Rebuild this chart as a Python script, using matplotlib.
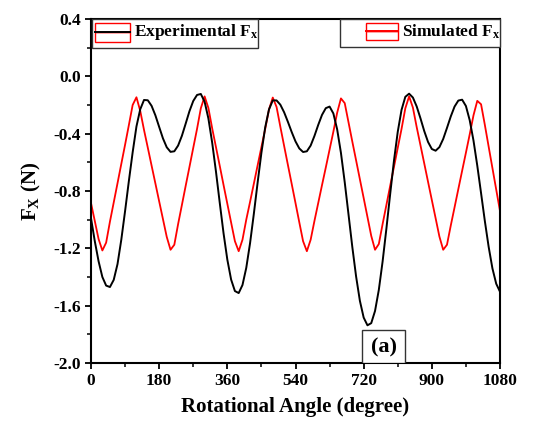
import matplotlib
matplotlib.use("Agg")
import matplotlib.pyplot as plt
from matplotlib.patches import Rectangle
from matplotlib.lines import Line2D
from matplotlib.ticker import MultipleLocator, FixedLocator, FuncFormatter

plt.rcParams['font.family'] = ['Liberation Serif', 'DejaVu Serif']
plt.rcParams['font.weight'] = 'bold'
plt.rcParams['axes.unicode_minus'] = False
plt.rcParams['mathtext.fontset'] = 'custom'
plt.rcParams['mathtext.rm'] = 'Liberation Serif:bold'
plt.rcParams['mathtext.bf'] = 'Liberation Serif:bold'
plt.rcParams['mathtext.it'] = 'Liberation Serif:bold'

# Rotational angle (degree), every 10 degrees from 0 to 1080
angle = list(range(0, 1081, 10))

experimental_fx = [
    -0.99, -1.15, -1.29, -1.40, -1.46, -1.47, -1.42, -1.31, -1.14, -0.94,
    -0.73, -0.53, -0.35, -0.23, -0.165, -0.167, -0.206, -0.272, -0.353, -0.433,
    -0.495, -0.527, -0.523, -0.483, -0.415, -0.33, -0.243, -0.172, -0.13, -0.123,
    -0.177, -0.294, -0.463, -0.665, -0.883, -1.095, -1.279, -1.418, -1.498, -1.512,
    -1.456, -1.336, -1.164, -0.959, -0.741, -0.533, -0.356, -0.231, -0.168, -0.168,
    -0.198, -0.251, -0.318, -0.389, -0.454, -0.503, -0.528, -0.523, -0.483, -0.416,
    -0.339, -0.269, -0.222, -0.211, -0.259, -0.37, -0.534, -0.739, -0.964, -1.19,
    -1.396, -1.566, -1.683, -1.737, -1.722, -1.637, -1.49, -1.292, -1.063, -0.821,
    -0.589, -0.387, -0.234, -0.143, -0.121, -0.148, -0.21, -0.293, -0.382, -0.458,
    -0.507, -0.519, -0.494, -0.437, -0.36, -0.28, -0.211, -0.169, -0.163, -0.207,
    -0.306, -0.448, -0.623, -0.815, -1.01, -1.189, -1.34, -1.447, -1.503,
]

simulated_fx = [
    -0.884, -1.009, -1.135, -1.215, -1.160, -1.014, -0.88, -0.746, -0.611, -0.477,
    -0.34, -0.20, -0.146, -0.241, -0.374, -0.498, -0.623, -0.747, -0.872, -0.996,
    -1.12, -1.21, -1.175, -1.031, -0.898, -0.764, -0.632, -0.499, -0.367, -0.223,
    -0.14, -0.221, -0.363, -0.494, -0.625, -0.758, -0.889, -1.02, -1.15, -1.22,
    -1.14, -1.0, -0.876, -0.749, -0.621, -0.494, -0.367, -0.231, -0.148, -0.214,
    -0.352, -0.486, -0.619, -0.751, -0.884, -1.018, -1.15, -1.22, -1.14, -1.009,
    -0.884, -0.759, -0.636, -0.511, -0.386, -0.254, -0.154, -0.187, -0.321, -0.455,
    -0.586, -0.718, -0.849, -0.981, -1.113, -1.21, -1.17, -1.031, -0.898, -0.764,
    -0.632, -0.499, -0.367, -0.223, -0.14, -0.218, -0.354, -0.481, -0.608, -0.736,
    -0.863, -0.99, -1.118, -1.21, -1.175, -1.041, -0.914, -0.786, -0.659, -0.533,
    -0.405, -0.272, -0.171, -0.195, -0.339, -0.49, -0.64, -0.79, -0.94,
]

x_ticks = [0, 180, 360, 540, 720, 900, 1080]
y_ticks = [-2.0, -1.6, -1.2, -0.8, -0.4, 0.0, 0.4]

W, H = 544, 430
fig = plt.figure(figsize=(W / 100, H / 100), dpi=100)
L, R, B, T = 91, 500, 363, 19
ax = fig.add_axes([L / W, 1 - B / H, (R - L) / W, (B - T) / H])

ax.plot(angle, experimental_fx, color='black', lw=1.4, zorder=3)
ax.plot(angle, simulated_fx, color='red', lw=1.3, zorder=2)

ax.set_xlim(0, 1080)
ax.set_ylim(-2.0, 0.4)
ax.xaxis.set_major_locator(FixedLocator(x_ticks))
ax.xaxis.set_minor_locator(MultipleLocator(90))
ax.yaxis.set_major_locator(FixedLocator(y_ticks))
ax.yaxis.set_minor_locator(MultipleLocator(0.2))
ax.yaxis.set_major_formatter(FuncFormatter(lambda v, p: f"{v:.1f}".replace("-0.0", "0.0")))
ax.tick_params(axis='both', which='major', direction='out', length=4, width=1.3,
               labelsize=12.5, pad=3)
ax.tick_params(axis='both', which='minor', direction='out', length=3, width=1.1)
for lab in ax.get_xticklabels() + ax.get_yticklabels():
    lab.set_fontweight('bold')
for s in ax.spines.values():
    s.set_linewidth(1.5)

ax.set_xlabel('Rotational Angle (degree)', fontsize=15, fontweight='bold', labelpad=6)
ax.set_ylabel(r'$\mathbf{F}_\mathbf{X}$ (N)', fontsize=15, fontweight='bold', labelpad=8)


def px(x, y):
    # convert figure pixel (from top-left) to axes fraction
    return (x - L) / (R - L), (B - y) / (B - T)


def legend_box(x0, y0, x1, y1, hx0, hx1, hy0, hy1, color, label_x, label):
    bx, by = px(x0, y1)
    bw = (x1 - x0) / (R - L)
    bh = (y1 - y0) / (B - T)
    ax.add_patch(Rectangle((bx, by), bw, bh, transform=ax.transAxes, facecolor='white',
                           edgecolor='#333333', lw=1.0, zorder=5, clip_on=False))
    # handle: red outline boxes with a line through the middle
    hmid = (hy0 + hy1) / 2
    for ya, yb in ((hy0, hmid), (hmid, hy1)):
        rx, ry = px(hx0, yb)
        ax.add_patch(Rectangle((rx, ry), (hx1 - hx0) / (R - L), (yb - ya) / (B - T),
                               transform=ax.transAxes, facecolor='none', edgecolor='red',
                               lw=1.0, zorder=6, clip_on=False))
    lx0, ly = px(hx0, hmid)
    lx1, _ = px(hx1, hmid)
    ax.add_line(Line2D([lx0, lx1], [ly, ly], transform=ax.transAxes, color=color, lw=1.4,
                       zorder=7, clip_on=False))
    tx, ty = px(label_x, hmid)
    ax.text(tx, ty, label, transform=ax.transAxes, fontsize=12.5, fontweight='bold',
            va='center', ha='left', zorder=7)


legend_box(92, 19, 258, 48, 95, 130, 23, 42, 'black', 134, r'Experimental F$_\mathbf{x}$')
legend_box(340, 19, 500, 47, 366, 398, 23, 40, 'red', 402, r'Simulated F$_\mathbf{x}$')

# panel label
bx, by = px(362, 363)
ax.add_patch(Rectangle((bx, by), (405 - 362) / (R - L), (363 - 330) / (B - T),
                       transform=ax.transAxes, facecolor='white', edgecolor='#333333',
                       lw=1.0, zorder=5))
tx, ty = px(383.5, 347)
ax.text(tx, ty, '(a)', transform=ax.transAxes, fontsize=16, fontweight='bold',
        ha='center', va='center', zorder=6)

fig.savefig('out.png', dpi=100)
